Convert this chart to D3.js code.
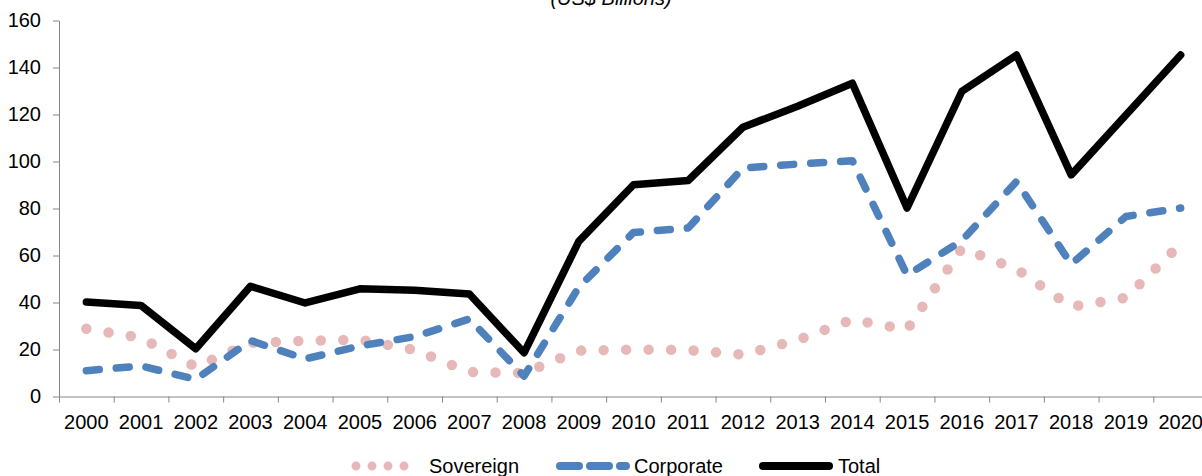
<!DOCTYPE html>
<html>
<head>
<meta charset="utf-8">
<script src="https://cdn.jsdelivr.net/npm/d3@7"></script>
<style>
  html, body { margin: 0; padding: 0; background: #fff; }
  svg { display: block; font-family: "Liberation Sans", Arial, Helvetica, sans-serif; }
</style>
</head>
<body>
<svg id="chart" width="1202" height="476"></svg>
<script>
// Bond issuance by type, US$ billions
const years = ["2000","2001","2002","2003","2004","2005","2006","2007","2008","2009","2010",
               "2011","2012","2013","2014","2015","2016","2017","2018","2019","2020"];
const sovereign = [28.8, 25.0, 12.6, 22.8, 23.7, 24.2, 19.8, 10.4, 10.0, 19.5, 20.0,
                   19.8, 17.8, 24.1, 32.7, 28.5, 63.0, 54.3, 38.2, 42.0, 65.0];
const corporate = [11.0, 13.0, 7.3, 23.8, 16.0, 21.5, 25.5, 33.0, 8.7, 46.5, 69.8,
                   71.7, 97.2, 98.9, 100.3, 51.6, 66.3, 91.5, 56.3, 76.6, 80.2];
const total     = [40.2, 38.7, 20.3, 46.9, 39.8, 45.8, 45.2, 43.6, 18.6, 66.0, 90.1,
                   91.9, 114.6, 123.5, 133.3, 80.2, 129.8, 145.3, 94.3, 119.8, 145.3];
const yTicks = [0, 20, 40, 60, 80, 100, 120, 140, 160];
const seriesNames = ["Sovereign", "Corporate", "Total"];
const unitLabel = "(US$ Billions)";

const svg = d3.select("#chart");
const plot = { left: 59, right: 1208, top: 20.5, bottom: 396.5 };
const axisColor = "#868686";
const fontSize = 20;

// Scales
const x = d3.scaleBand().domain(years).range([plot.left, plot.right]).padding(0);
const xIdx = d3.scaleLinear().domain([0, years.length]).range([plot.left, plot.right]);
const y = d3.scaleLinear().domain([0, 160]).range([plot.bottom, plot.top]);
const xc = yr => x(yr) + x.bandwidth() / 2;

// Unit caption, partly above the top edge
svg.append("text")
  .attr("x", 611).attr("y", 5)
  .attr("text-anchor", "middle")
  .attr("font-size", fontSize)
  .attr("font-style", "italic")
  .attr("fill", "#000")
  .text(unitLabel);

// Y axis
const gy = svg.append("g")
  .attr("transform", `translate(${plot.left},0)`)
  .call(d3.axisLeft(y).tickValues(yTicks).tickSize(6).tickPadding(12).tickSizeOuter(0));
gy.selectAll("path, line").attr("stroke", axisColor).attr("stroke-width", 1);
gy.selectAll("text").attr("fill", "#000").attr("font-size", fontSize)
  .attr("font-family", "Liberation Sans, Arial, sans-serif");

// X axis: tick marks between categories
const gxTicks = svg.append("g")
  .attr("transform", `translate(0,${plot.bottom})`)
  .call(d3.axisBottom(xIdx).tickValues(d3.range(years.length + 1)).tickFormat(() => "")
        .tickSize(6).tickSizeOuter(0));
gxTicks.selectAll("path, line").attr("stroke", axisColor).attr("stroke-width", 1);

// X axis: category labels centred in each band
const gxLabels = svg.append("g")
  .attr("transform", `translate(0,${plot.bottom})`)
  .call(d3.axisBottom(x).tickSize(0).tickPadding(18.5));
gxLabels.select(".domain").remove();
gxLabels.selectAll("text").attr("fill", "#000").attr("font-size", fontSize)
  .attr("font-family", "Liberation Sans, Arial, sans-serif");

// Series styles
const styles = {
  Sovereign: { color: "#E6B9B8", width: 10.5, dash: "0 22.5", legendWidth: 9, legendDash: "0 16" },
  Corporate: { color: "#4F81BD", width: 7.5, dash: "13 17", legendWidth: 8, legendDash: "19 11" },
  Total:     { color: "#000000", width: 7.5, dash: null, legendWidth: 8, legendDash: null }
};
const seriesData = { Sovereign: sovereign, Corporate: corporate, Total: total };

const line = d3.line()
  .x((d, i) => xc(years[i]))
  .y(d => y(d));

const gLines = svg.append("g");
seriesNames.forEach(name => {
  const s = styles[name];
  gLines.append("path")
    .datum(seriesData[name])
    .attr("d", line)
    .attr("fill", "none")
    .attr("stroke", s.color)
    .attr("stroke-width", s.width)
    .attr("stroke-linecap", "round")
    .attr("stroke-linejoin", "round")
    .attr("stroke-dasharray", s.dash);
});

// Legend
const legendItems = [
  { name: "Sovereign", x1: 356, x2: 420, tx: 429 },
  { name: "Corporate", x1: 560, x2: 626, tx: 634 },
  { name: "Total",     x1: 763, x2: 829, tx: 838 }
];
const legendY = 466;
const gLegend = svg.append("g");
legendItems.forEach(it => {
  const s = styles[it.name];
  gLegend.append("line")
    .attr("x1", it.x1).attr("x2", it.x2)
    .attr("y1", legendY).attr("y2", legendY)
    .attr("stroke", s.color)
    .attr("stroke-width", s.legendWidth)
    .attr("stroke-linecap", "round")
    .attr("stroke-dasharray", s.legendDash);
  gLegend.append("text")
    .attr("x", it.tx).attr("y", 473)
    .attr("font-size", fontSize)
    .attr("fill", "#000")
    .text(it.name);
});
</script>
</body>
</html>
